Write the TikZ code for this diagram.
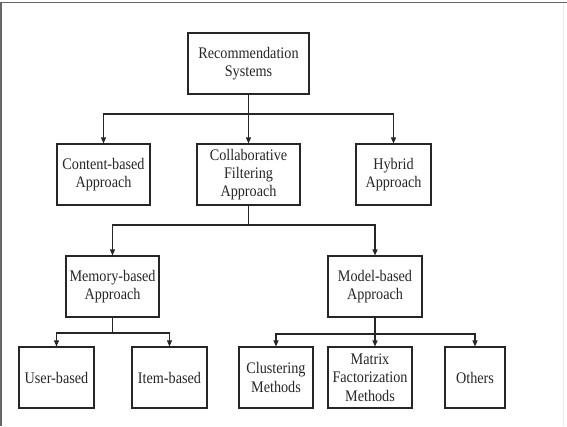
\documentclass[tikz,border=0pt]{standalone}
\usepackage{fontspec}
\setmainfont{Liberation Serif}[FakeStretch=0.88]
\usetikzlibrary{arrows.meta}
\begin{document}
\begin{tikzpicture}[x=1bp,y=-1bp,
  box/.style={draw=black!85, line width=1.1bp, rectangle, align=center, inner sep=0pt,
    minimum height=61bp, text=black!85, font=\fontsize{16.2}{18.3}\selectfont},
  conn/.style={draw=black!85, line width=1.1bp},
  arr/.style={conn, -{Triangle[length=6bp,width=5bp]}}]
\useasboundingbox (0,0) rectangle (567,426);
\fill[white] (0,0) rectangle (567,426);
\draw[black!60, line width=1.5bp] (1,426) -- (1,2.5) -- (567,2.5);
\draw[black!8, line width=1bp] (563,3) -- (563,426);

\node[box, minimum width=121bp] (root) at (248.5,63.5) {Recommendation\\Systems};
\node[box, minimum width=93bp] (content) at (103.5,174.5) {Content-based\\Approach};
\node[box, minimum width=103bp] (collab) at (248.5,174.5) {Collaborative\\Filtering\\Approach};
\node[box, minimum width=75bp] (hybrid) at (393.5,174.5) {Hybrid\\Approach};
\node[box, minimum width=93bp] (memory) at (112.5,286.5) {Memory-based\\Approach};
\node[box, minimum width=94bp] (model) at (375,286.5) {Model-based\\Approach};
\node[box, minimum width=75bp] (user) at (56.5,377.5) {User-based};
\node[box, minimum width=75bp] (item) at (169.5,377.5) {Item-based};
\node[box, minimum width=74bp] (clust) at (276,377.5) {Clustering\\Methods};
\node[box, minimum width=84bp] (matrix) at (370,377.5) {Matrix\\Factorization\\Methods};
\node[box, minimum width=60bp] (others) at (475,377.5) {Others};

\coordinate (b1) at (248.5,114);
\coordinate (b2) at (248.5,225);
\coordinate (b3) at (112.5,333);
\coordinate (b4) at (375,334);

\draw[arr] (root.south) -- (collab.north);
\draw[arr] (b1) -| (content.north);
\draw[arr] (b1) -| (hybrid.north);

\draw[conn] (collab.south) -- (b2);
\draw[arr] (b2) -| (memory.north);
\draw[arr] (b2) -| (model.north);

\draw[conn] (memory.south) -- (b3);
\draw[arr] (b3) -| (user.north);
\draw[arr] (b3) -| (item.north);

\draw[arr] (model.south) -- (model.south |- matrix.north);
\draw[arr] (b4) -| (clust.north);
\draw[arr] (b4) -| (others.north);
\end{tikzpicture}
\end{document}
